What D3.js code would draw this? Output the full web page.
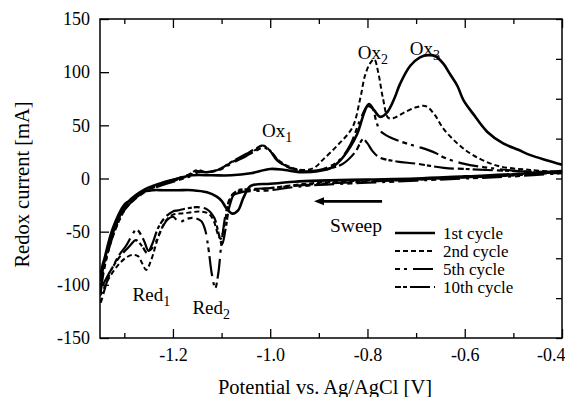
<!DOCTYPE html>
<html>
<head>
<meta charset="utf-8">
<script src="https://cdn.jsdelivr.net/npm/d3@7"></script>
<style>
  body { margin: 0; background: #fff; }
  svg { display: block; }
  text { font-family: "Liberation Serif", "Times New Roman", serif; fill: #000; }
</style>
</head>
<body>
<div id="chart"></div>
<script>
// Tick values
const xMajorTicks = [-1.2, -1.0, -0.8, -0.6, -0.4];
const xMinorTicks = [-1.3, -1.1, -0.9, -0.7, -0.5];
const yTicks = [-150, -100, -50, 0, 50, 100, 150];
const yRightTicks = [-150, -112.5, -75, -37.5, 0, 37.5, 75, 112.5, 150];

// Cycle data: [potential V, current mA], cathodic sweep then anodic return
const cycle1 = [
  [-0.4, 7], [-0.5, 4], [-0.6, 2], [-0.7, 0], [-0.8, -1], [-0.9, -2], [-0.95, -3],
  [-1.0, -5], [-1.04, -7], [-1.055, -18], [-1.066, -30], [-1.078, -33], [-1.09, -28],
  [-1.1, -21], [-1.11, -17], [-1.13, -13], [-1.16, -11], [-1.19, -11], [-1.22, -11],
  [-1.241, -11], [-1.264, -13], [-1.282, -19], [-1.299, -24], [-1.323, -46],
  [-1.34, -74], [-1.35, -95],
  [-1.345, -82], [-1.334, -66], [-1.319, -45], [-1.292, -22], [-1.257, -10],
  [-1.222, -4], [-1.19, 0], [-1.16, 3], [-1.12, 3], [-1.08, 3], [-1.04, 5],
  [-1.0, 9], [-0.97, 8], [-0.94, 6], [-0.9, 7], [-0.875, 10], [-0.856, 17],
  [-0.835, 30], [-0.821, 42], [-0.805, 64], [-0.797, 70], [-0.786, 64], [-0.774, 58],
  [-0.76, 62], [-0.745, 75], [-0.733, 89], [-0.712, 106], [-0.692, 114], [-0.675, 116],
  [-0.66, 115], [-0.644, 108], [-0.63, 98], [-0.615, 87], [-0.603, 74], [-0.583, 61],
  [-0.554, 44], [-0.521, 33], [-0.49, 27], [-0.465, 22], [-0.43, 17], [-0.4, 13]
];

const cycle2 = [
  [-0.4, 6], [-0.5, 3], [-0.6, 1], [-0.7, -1], [-0.8, -2], [-0.9, -4], [-0.95, -6],
  [-1.0, -9], [-1.04, -11], [-1.065, -12], [-1.078, -15], [-1.088, -28], [-1.095, -46],
  [-1.102, -57], [-1.108, -52], [-1.116, -40], [-1.127, -33], [-1.145, -31],
  [-1.165, -32], [-1.185, -33], [-1.2, -34], [-1.215, -40], [-1.23, -55],
  [-1.245, -77], [-1.255, -86], [-1.263, -80], [-1.272, -73], [-1.285, -72],
  [-1.298, -75], [-1.312, -81], [-1.332, -94], [-1.35, -110],
  [-1.345, -92], [-1.335, -72], [-1.32, -50], [-1.295, -27], [-1.26, -13],
  [-1.225, -6], [-1.19, -1], [-1.165, 3], [-1.15, 7], [-1.135, 6], [-1.11, 8],
  [-1.076, 16], [-1.05, 22], [-1.03, 27], [-1.015, 31], [-1.0, 26], [-0.985, 18],
  [-0.96, 11], [-0.935, 8], [-0.91, 10], [-0.891, 18], [-0.86, 32], [-0.831, 48],
  [-0.815, 75], [-0.805, 97], [-0.795, 108], [-0.786, 112], [-0.778, 100],
  [-0.768, 75], [-0.757, 57], [-0.745, 57], [-0.725, 62], [-0.7, 67], [-0.68, 68],
  [-0.662, 60], [-0.644, 47], [-0.615, 33], [-0.583, 22], [-0.533, 12],
  [-0.465, 8], [-0.4, 6]
];

const cycle5 = [
  [-0.4, 5], [-0.5, 2], [-0.6, 0], [-0.7, -2], [-0.8, -4], [-0.9, -6], [-0.95, -8],
  [-1.0, -11], [-1.04, -12], [-1.06, -13], [-1.08, -17], [-1.09, -30], [-1.1, -60],
  [-1.107, -90], [-1.113, -103], [-1.12, -90], [-1.127, -66], [-1.134, -48],
  [-1.142, -40], [-1.158, -37], [-1.172, -38], [-1.187, -41], [-1.2, -36],
  [-1.212, -39], [-1.226, -50], [-1.24, -64], [-1.25, -68], [-1.26, -58],
  [-1.275, -48], [-1.286, -55], [-1.296, -63], [-1.312, -73], [-1.332, -92],
  [-1.35, -118],
  [-1.345, -95], [-1.336, -74], [-1.322, -52], [-1.297, -28], [-1.262, -14],
  [-1.227, -7], [-1.192, -2], [-1.165, 2], [-1.148, 6], [-1.13, 6], [-1.105, 8],
  [-1.076, 15], [-1.05, 21], [-1.03, 26], [-1.013, 29], [-0.998, 25], [-0.982, 16],
  [-0.958, 10], [-0.93, 7], [-0.9, 8], [-0.875, 12], [-0.856, 18], [-0.835, 32],
  [-0.815, 55], [-0.8, 68], [-0.79, 66], [-0.782, 54], [-0.774, 45], [-0.755, 39],
  [-0.72, 33], [-0.69, 29], [-0.66, 24], [-0.644, 20], [-0.603, 14], [-0.533, 9],
  [-0.465, 6], [-0.4, 5]
];

const cycle10 = [
  [-0.4, 6], [-0.5, 3], [-0.6, 1], [-0.7, -1], [-0.8, -3], [-0.9, -5], [-0.95, -7],
  [-1.0, -9], [-1.04, -10], [-1.07, -12], [-1.083, -25], [-1.092, -48], [-1.099, -62],
  [-1.106, -52], [-1.115, -37], [-1.13, -29], [-1.15, -27], [-1.17, -28],
  [-1.19, -30], [-1.2, -31], [-1.215, -36], [-1.23, -46], [-1.243, -62],
  [-1.253, -70], [-1.263, -64], [-1.276, -58], [-1.29, -64], [-1.31, -74],
  [-1.33, -88], [-1.35, -104],
  [-1.346, -90], [-1.336, -70], [-1.321, -48], [-1.294, -25], [-1.259, -12],
  [-1.224, -5], [-1.19, 0], [-1.166, 4], [-1.15, 8], [-1.132, 6], [-1.108, 8],
  [-1.078, 16], [-1.05, 23], [-1.03, 28], [-1.016, 31], [-1.002, 27], [-0.986, 17],
  [-0.96, 10], [-0.935, 7], [-0.905, 7], [-0.88, 9], [-0.85, 14], [-0.825, 25],
  [-0.809, 37], [-0.8, 33], [-0.79, 26], [-0.776, 20], [-0.74, 16], [-0.7, 14],
  [-0.643, 10], [-0.6, 9], [-0.5, 7], [-0.4, 6]
];

const seriesNames = ["1st cycle", "2nd cycle", "5th cycle", "10th cycle"];
const seriesData = [cycle1, cycle2, cycle5, cycle10];
const seriesDash = ["none", "5,3", "5,4,3,6,20,4", "6,2,4,3,20,4"];
const seriesWidth = [2.6, 2, 2.2, 2.2];

// Peak labels: [name, subscript, potential, current]
const peakLabels = [
  ["Ox", "1", -1.017, 39],
  ["Ox", "2", -0.82, 112],
  ["Ox", "3", -0.713, 116],
  ["Red", "1", -1.283, -115],
  ["Red", "2", -1.16, -127]
];
// Sweep arrow: from / to potential, current level
const sweepArrow = [-0.77, -0.91, -21.5];

const W = 565, H = 397;
const margin = { top: 19, right: 3, bottom: 59, left: 100 };

const svg = d3.select("#chart").append("svg")
  .attr("width", W)
  .attr("height", H);

const x = d3.scaleLinear().domain([-1.35, -0.4]).range([margin.left, W - margin.right]);
const y = d3.scaleLinear().domain([-150, 150]).range([H - margin.bottom, margin.top]);

// Clip to the plot frame
svg.append("defs").append("clipPath").attr("id", "clip")
  .append("rect")
  .attr("x", margin.left).attr("y", margin.top)
  .attr("width", W - margin.left - margin.right)
  .attr("height", H - margin.top - margin.bottom);

const line = d3.line()
  .x(d => x(d[0]))
  .y(d => y(d[1]))
  .curve(d3.curveCatmullRom.alpha(0.5));

const curves = svg.append("g").attr("clip-path", "url(#clip)");
seriesData.forEach((data, i) => {
  curves.append("path")
    .datum(data)
    .attr("d", line)
    .attr("fill", "none")
    .attr("stroke", "#000")
    .attr("stroke-width", seriesWidth[i])
    .attr("stroke-dasharray", seriesDash[i])
    .attr("stroke-linejoin", "round");
});

// Axes: ticks point inward
const fmt = d => d.toFixed(1);
const axisStyle = g => {
  g.select(".domain").remove();
  g.selectAll(".tick line").attr("stroke", "#000").attr("stroke-width", 1.3);
  g.selectAll(".tick text").style("font-size", "18px").attr("fill", "#000");
};

svg.append("g")
  .attr("transform", `translate(0,${y(-150)})`)
  .call(d3.axisBottom(x).tickValues(xMajorTicks).tickFormat(fmt).tickSizeInner(-9).tickPadding(10))
  .call(axisStyle)
  .call(g => g.selectAll(".tick text").attr("dy", "0.71em"))
  // last label sits against the right edge, as in the original
  .call(g => g.selectAll(".tick text").filter(d => d === -0.4)
    .attr("text-anchor", "end").attr("x", 3));

svg.append("g")
  .attr("transform", `translate(0,${y(-150)})`)
  .call(d3.axisBottom(x).tickValues(xMinorTicks).tickFormat("").tickSizeInner(-5))
  .call(axisStyle);

svg.append("g")
  .attr("transform", `translate(0,${y(150)})`)
  .call(d3.axisTop(x).tickValues(xMajorTicks).tickFormat("").tickSizeInner(-9))
  .call(axisStyle);

svg.append("g")
  .attr("transform", `translate(0,${y(150)})`)
  .call(d3.axisTop(x).tickValues(xMinorTicks).tickFormat("").tickSizeInner(-5))
  .call(axisStyle);

svg.append("g")
  .attr("transform", `translate(${x(-1.35)},0)`)
  .call(d3.axisLeft(y).tickValues(yTicks).tickFormat(d => String(d)).tickSizeInner(-9).tickPadding(10))
  .call(axisStyle);

svg.append("g")
  .attr("transform", `translate(${x(-0.4)},0)`)
  .call(d3.axisRight(y).tickValues(yRightTicks).tickFormat("").tickSizeInner(-6))
  .call(axisStyle);

// Frame
svg.append("rect")
  .attr("x", x(-1.35)).attr("y", y(150))
  .attr("width", x(-0.4) - x(-1.35))
  .attr("height", y(-150) - y(150))
  .attr("fill", "none")
  .attr("stroke", "#000")
  .attr("stroke-width", 1.5);

// Axis titles
svg.append("text")
  .attr("x", (x(-1.35) + x(-0.4)) / 2 - 6)
  .attr("y", 394)
  .attr("text-anchor", "middle")
  .style("font-size", "20.5px")
  .text("Potential vs. Ag/AgCl [V]");

svg.append("text")
  .attr("transform", `translate(29,${(y(150) + y(-150)) / 2 + 6}) rotate(-90)`)
  .attr("text-anchor", "middle")
  .style("font-size", "20.5px")
  .text("Redox current [mA]");

// Peak labels with subscripts
peakLabels.forEach(([name, sub, px, py]) => {
  const t = svg.append("text")
    .attr("x", x(px))
    .attr("y", y(py))
    .style("font-size", "19px");
  t.append("tspan").text(name);
  t.append("tspan").attr("dy", 5).style("font-size", "14px").text(sub);
});

// Sweep arrow
const arrowY = y(sweepArrow[2]);
svg.append("line")
  .attr("x1", x(sweepArrow[0])).attr("x2", x(sweepArrow[1]) + 8)
  .attr("y1", arrowY).attr("y2", arrowY)
  .attr("stroke", "#000").attr("stroke-width", 2.6);
svg.append("path")
  .attr("d", `M${x(sweepArrow[1])},${arrowY} l10,-4 l0,8 z`)
  .attr("fill", "#000");
svg.append("text")
  .attr("x", x(-0.877))
  .attr("y", y(-50))
  .style("font-size", "19.5px")
  .text("Sweep");

// Legend
const legend = svg.append("g").attr("transform", "translate(395,233)");
seriesNames.forEach((name, i) => {
  const row = legend.append("g").attr("transform", `translate(0,${i * 18})`);
  row.append("line")
    .attr("x1", 0).attr("x2", 40)
    .attr("y1", 0).attr("y2", 0)
    .attr("stroke", "#000")
    .attr("stroke-width", seriesWidth[i])
    .attr("stroke-dasharray", seriesDash[i]);
  row.append("text")
    .attr("x", 48)
    .attr("y", 6)
    .style("font-size", "17px")
    .text(name);
});
</script>
</body>
</html>
